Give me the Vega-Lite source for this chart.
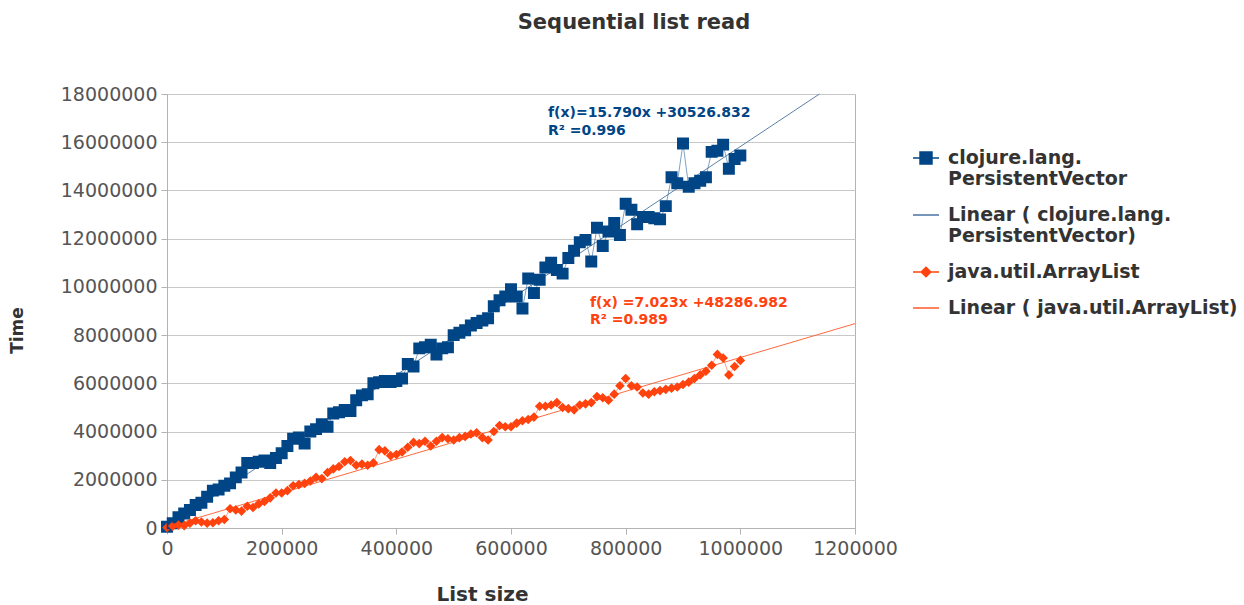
{
  "$schema": "https://vega.github.io/schema/vega-lite/v6.json",
  "autosize": {"type": "none"},
  "padding": {"left": 167, "top": 94, "right": 389, "bottom": 77},
  "width": 688,
  "height": 434,
  "background": "white",
  "title": {"text": "Sequential list read", "font": "DejaVu Sans", "fontSize": 21, "fontWeight": "bold", "color": "#333333", "anchor": "middle", "dx": 123, "offset": 52},
  "config": {"view": {"stroke": "#b3b3b3"}, "font": "DejaVu Sans"},
  "datasets": {
    "pts": [
      {"n":0,"pv":50000,"al":20000},{"n":10000,"pv":200000,"al":80000},{"n":20000,"pv":450000,"al":120000},{"n":30000,"pv":600000,"al":100000},{"n":40000,"pv":750000,"al":200000},
      {"n":50000,"pv":950000,"al":300000},{"n":60000,"pv":1050000,"al":250000},{"n":70000,"pv":1300000,"al":200000},{"n":80000,"pv":1550000,"al":220000},{"n":90000,"pv":1600000,"al":300000},
      {"n":100000,"pv":1750000,"al":350000},{"n":110000,"pv":1850000,"al":800000},{"n":120000,"pv":2100000,"al":750000},{"n":130000,"pv":2300000,"al":700000},{"n":140000,"pv":2700000,"al":900000},
      {"n":150000,"pv":2700000,"al":850000},{"n":160000,"pv":2750000,"al":1000000},{"n":170000,"pv":2800000,"al":1100000},{"n":180000,"pv":2700000,"al":1250000},{"n":190000,"pv":2900000,"al":1450000},
      {"n":200000,"pv":3100000,"al":1450000},{"n":210000,"pv":3400000,"al":1550000},{"n":220000,"pv":3700000,"al":1750000},{"n":230000,"pv":3750000,"al":1800000},{"n":240000,"pv":3500000,"al":1850000},
      {"n":250000,"pv":4000000,"al":1950000},{"n":260000,"pv":4100000,"al":2100000},{"n":270000,"pv":4300000,"al":2050000},{"n":280000,"pv":4200000,"al":2300000},{"n":290000,"pv":4750000,"al":2450000},
      {"n":300000,"pv":4800000,"al":2550000},{"n":310000,"pv":4900000,"al":2750000},{"n":320000,"pv":4850000,"al":2800000},{"n":330000,"pv":5300000,"al":2600000},{"n":340000,"pv":5500000,"al":2650000},
      {"n":350000,"pv":5550000,"al":2600000},{"n":360000,"pv":6000000,"al":2700000},{"n":370000,"pv":6050000,"al":3250000},{"n":380000,"pv":6100000,"al":3200000},{"n":390000,"pv":6050000,"al":3000000},
      {"n":400000,"pv":6100000,"al":3050000},{"n":410000,"pv":6200000,"al":3150000},{"n":420000,"pv":6800000,"al":3350000},{"n":430000,"pv":6700000,"al":3550000},{"n":440000,"pv":7450000,"al":3500000},
      {"n":450000,"pv":7500000,"al":3600000},{"n":460000,"pv":7600000,"al":3400000},{"n":470000,"pv":7200000,"al":3600000},{"n":480000,"pv":7450000,"al":3750000},{"n":490000,"pv":7500000,"al":3700000},
      {"n":500000,"pv":8000000,"al":3650000},{"n":510000,"pv":8100000,"al":3750000},{"n":520000,"pv":8200000,"al":3800000},{"n":530000,"pv":8400000,"al":3900000},{"n":540000,"pv":8500000,"al":3950000},
      {"n":550000,"pv":8600000,"al":3750000},{"n":560000,"pv":8700000,"al":3650000},{"n":570000,"pv":9200000,"al":4000000},{"n":580000,"pv":9450000,"al":4250000},{"n":590000,"pv":9600000,"al":4200000},
      {"n":600000,"pv":9900000,"al":4200000},{"n":610000,"pv":9600000,"al":4350000},{"n":620000,"pv":9100000,"al":4450000},{"n":630000,"pv":10350000,"al":4500000},{"n":640000,"pv":9750000,"al":4600000},
      {"n":650000,"pv":10300000,"al":5050000},{"n":660000,"pv":10800000,"al":5050000},{"n":670000,"pv":11000000,"al":5100000},{"n":680000,"pv":10700000,"al":5200000},{"n":690000,"pv":10550000,"al":5000000},
      {"n":700000,"pv":11200000,"al":4950000},{"n":710000,"pv":11500000,"al":4900000},{"n":720000,"pv":11850000,"al":5100000},{"n":730000,"pv":11950000,"al":5150000},{"n":740000,"pv":11050000,"al":5200000},
      {"n":750000,"pv":12450000,"al":5450000},{"n":760000,"pv":11700000,"al":5400000},{"n":770000,"pv":12300000,"al":5300000},{"n":780000,"pv":12650000,"al":5550000},{"n":790000,"pv":12150000,"al":5900000},
      {"n":800000,"pv":13450000,"al":6200000},{"n":810000,"pv":13200000,"al":5900000},{"n":820000,"pv":12600000,"al":5850000},{"n":830000,"pv":12900000,"al":5600000},{"n":840000,"pv":12900000,"al":5550000},
      {"n":850000,"pv":12850000,"al":5650000},{"n":860000,"pv":12800000,"al":5700000},{"n":870000,"pv":13350000,"al":5750000},{"n":880000,"pv":14550000,"al":5800000},{"n":890000,"pv":14300000,"al":5850000},
      {"n":900000,"pv":15950000,"al":5950000},{"n":910000,"pv":14150000,"al":6050000},{"n":920000,"pv":14300000,"al":6200000},{"n":930000,"pv":14400000,"al":6350000},{"n":940000,"pv":14550000,"al":6500000},
      {"n":950000,"pv":15600000,"al":6750000},{"n":960000,"pv":15650000,"al":7200000},{"n":970000,"pv":15900000,"al":7050000},{"n":980000,"pv":14900000,"al":6350000},{"n":990000,"pv":15300000,"al":6700000},
      {"n":1000000,"pv":15450000,"al":6950000}
    ],
    "trend": [
      {"n":0,"t":30527,"s":"lpv"},{"n":1138000,"t":18000000,"s":"lpv"},
      {"n":0,"t":48287,"s":"lal"},{"n":1200000,"t":8475887,"s":"lal"}
    ],
    "notes": [
      {"n":664500,"t":17050000,"s":"pv","label":"f(x)=15.790x +30526.832"},
      {"n":664500,"t":16300000,"s":"pv","label":"R² =0.996"},
      {"n":737800,"t":9170000,"s":"al","label":"f(x) =7.023x +48286.982"},
      {"n":737800,"t":8460000,"s":"al","label":"R² =0.989"}
    ]
  },
  "encoding": {
    "x": {"field": "n", "type": "quantitative", "title": "List size",
      "scale": {"domain": [0, 1200000], "nice": false, "zero": true},
      "axis": {"values": [0,200000,400000,600000,800000,1000000,1200000], "format": "d", "grid": false,
        "labelFont": "DejaVu Sans", "labelFontSize": 19, "labelColor": "#555555", "labelFlush": false, "labelOverlap": false,
        "tickColor": "#b3b3b3", "tickSize": 6, "labelPadding": 5, "domainColor": "#b3b3b3",
        "titleFont": "DejaVu Sans", "titleFontSize": 20, "titleFontWeight": "bold", "titleColor": "#333333", "titlePadding": 26, "titleX": 315}},
    "y": {"field": "t", "type": "quantitative", "title": "Time",
      "scale": {"domain": [0, 18000000], "nice": false},
      "axis": {"values": [0,2000000,4000000,6000000,8000000,10000000,12000000,14000000,16000000,18000000], "format": "d", "grid": true, "gridColor": "#c8c8c8",
        "labelFont": "DejaVu Sans", "labelFontSize": 19, "labelColor": "#555555", "labelFlush": false, "labelOverlap": false,
        "tickColor": "#b3b3b3", "tickSize": 6, "labelPadding": 4, "domainColor": "#b3b3b3",
        "titleFont": "DejaVu Sans", "titleFontSize": 17, "titleFontWeight": "bold", "titleColor": "#333333", "titlePadding": 34, "titleY": 236}}
  },
  "layer": [
    {
      "data": {"name": "pts"},
      "transform": [{"fold": ["pv", "al"], "as": ["s", "t"]}],
      "mark": {"type": "line", "strokeWidth": 1, "opacity": 0.5},
      "encoding": {
        "color": {"field": "s", "type": "nominal", "title": null, "scale": {"domain": ["pv","lpv","al","lal"], "range": ["#004586","#4a72a0","#ff420e","#ff5a2a"]}}
      }
    },
    {
      "data": {"name": "trend"},
      "mark": {"type": "line", "strokeWidth": 1, "opacity": 0.9},
      "encoding": {
        "color": {"field": "s", "type": "nominal", "title": null}
      }
    },
    {
      "data": {"name": "pts"},
      "transform": [{"fold": ["pv", "al"], "as": ["s", "t"]}],
      "mark": {"type": "point", "filled": true, "opacity": 1},
      "encoding": {
        "size": {"value": 676},
        "color": {"field": "s", "type": "nominal", "title": null,
          "legend": {"orient": "none", "legendX": 745, "legendY": 50, "padding": 0,
            "labelFont": "DejaVu Sans", "labelFontSize": 19, "labelFontWeight": "bold", "labelColor": "#333333", "labelLimit": 400,
            "labelOffset": 8, "rowPadding": 12, "symbolStrokeWidth": 1.5, "symbolSize": 676, "symbolOpacity": 1,
            "labelExpr": "datum.value == 'pv' ? [' clojure.lang.', 'PersistentVector'] : datum.value == 'lpv' ? ['Linear ( clojure.lang.', 'PersistentVector)'] : datum.value == 'al' ? ' java.util.ArrayList' : 'Linear ( java.util.ArrayList)'",
            "encode": {"symbols": {"update": {"stroke": {"scale": "color", "field": "value"}, "fill": {"scale": "color", "field": "value"}, "strokeWidth": {"value": 1.5}, "opacity": {"value": 1}}}}}},
        "shape": {"field": "s", "type": "nominal", "title": null,
          "scale": {"domain": ["pv","lpv","al","lal"], "range": ["M-1,0H1M-0.46,-0.46H0.46V0.46H-0.46Z", "M-1,0H1", "M-1,0H1M0,-0.37L0.37,0L0,0.37L-0.37,0Z", "M-1,0H1"]}}
      }
    },
    {
      "data": {"name": "notes"},
      "mark": {"type": "text", "align": "left", "baseline": "alphabetic", "font": "DejaVu Sans", "fontSize": 14, "fontWeight": "bold"},
      "encoding": {
        "text": {"field": "label"},
        "color": {"field": "s", "type": "nominal", "title": null}
      }
    }
  ]
}
